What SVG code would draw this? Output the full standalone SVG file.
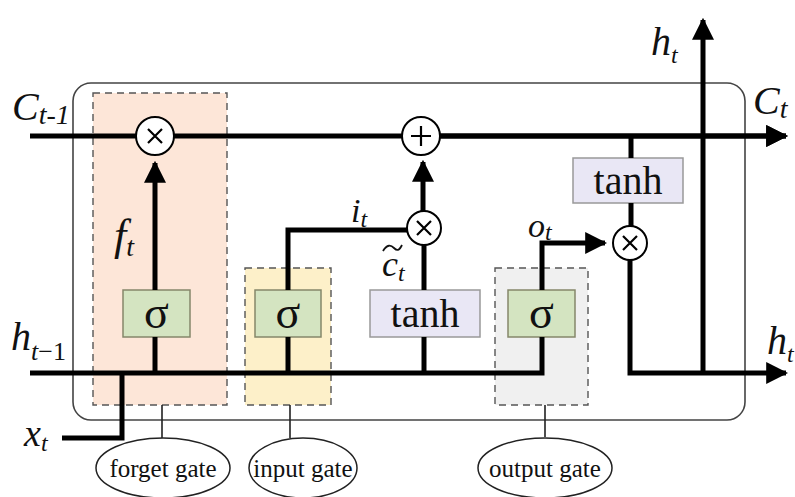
<svg xmlns="http://www.w3.org/2000/svg" width="795" height="497" viewBox="0 0 795 497">
<defs>
<marker id="ah" viewBox="0 0 10 10" refX="9" refY="5" markerWidth="4.4" markerHeight="4.4" orient="auto" markerUnits="strokeWidth">
<path d="M0,0 L10,5 L0,10 z" fill="#000"/>
</marker>
</defs>
<style>
.w{stroke:#000;stroke-width:5;fill:none}
.thin{stroke:#222;stroke-width:1.6;fill:none}
.dash{stroke:#555;stroke-width:1.4;stroke-dasharray:7 5}
.sig{fill:#d4e4c1;stroke:#85876a;stroke-width:1.5}
.tanhb{fill:#e9e7f5;stroke:#999;stroke-width:1.5}
.op{fill:#fff;stroke:#000;stroke-width:2}
.t{font-family:"Liberation Serif","DejaVu Serif",serif;fill:#111}
.it{font-family:"Liberation Serif","DejaVu Serif",serif;font-style:italic;fill:#111}
.ell{fill:#fff;stroke:#222;stroke-width:1.5}
</style>
<rect width="795" height="497" fill="#fff"/>
<rect x="73" y="83" width="672" height="337" rx="18" fill="none" stroke="#444" stroke-width="1.6"/>

<g id="forget_gate">
<rect x="93" y="93" width="134" height="312" fill="#fde6d8" class="dash"/>
<rect x="123" y="290" width="67" height="47" class="sig"/>
<text x="156.5" y="328" text-anchor="middle" class="t" font-size="46">σ</text>
</g>
<g id="input_gate">
<rect x="245" y="268" width="86" height="137" fill="#fdf0c9" class="dash"/>
<rect x="255" y="290" width="66" height="47" class="sig"/>
<text x="288" y="328" text-anchor="middle" class="t" font-size="46">σ</text>
</g>
<g id="output_gate">
<rect x="495" y="268" width="93" height="137" fill="#f0f0f0" class="dash"/>
<rect x="508" y="290" width="67" height="47" class="sig"/>
<text x="541.5" y="328" text-anchor="middle" class="t" font-size="46">σ</text>
</g>
<g id="tanh_candidate">
<rect x="370" y="290" width="110" height="47" class="tanhb"/>
<text x="425" y="327" text-anchor="middle" class="t" font-size="40">tanh</text>
</g>
<g id="tanh_output">
<rect x="573" y="158" width="110" height="45" class="tanhb"/>
<text x="628" y="194" text-anchor="middle" class="t" font-size="40">tanh</text>
</g>

<g id="connectors">
<path d="M30,136 H136 M174,136 H402 M440,136 H786" class="w" marker-end="url(#ah)"/>
<path d="M440,136 H786" class="w" marker-end="url(#ah)"/>
<path d="M30,373 H542 V337" class="w"/>
<path d="M62,438 H122 V373" class="w"/>
<path d="M155,373 V337" class="w"/>
<path d="M155,290 V163" class="w" marker-end="url(#ah)"/>
<path d="M288,373 V337" class="w"/>
<path d="M288,290 V230 H407" class="w"/>
<path d="M424,373 V337" class="w"/>
<path d="M424,290 V245" class="w"/>
<path d="M423,211 V162" class="w" marker-end="url(#ah)"/>
<path d="M542,290 V243 H605" class="w" marker-end="url(#ah)"/>
<path d="M631,136 V158 M631,203 V226" class="w"/>
<path d="M630,260 V373 H786" class="w" marker-end="url(#ah)"/>
<path d="M703,373 V20" class="w" marker-end="url(#ah)"/>
<path d="M162,405 V438 M290,405 V438 M545,405 V437" class="thin"/>
</g>

<g id="op_forget_mul"><circle cx="155" cy="136" r="19" class="op"/><path d="M148,129 L162,143 M162,129 L148,143" stroke="#000" stroke-width="2.2"/></g>
<g id="op_add"><circle cx="421" cy="136" r="19" class="op"/><path d="M411,136 H431 M421,126 V146" stroke="#000" stroke-width="2.2"/></g>
<g id="op_input_mul"><circle cx="424" cy="228" r="17" class="op"/><path d="M417,221 L431,235 M431,221 L417,235" stroke="#000" stroke-width="2.2"/></g>
<g id="op_output_mul"><circle cx="630" cy="243" r="17" class="op"/><path d="M623,236 L637,250 M637,236 L623,250" stroke="#000" stroke-width="2.2"/></g>

<g id="labels">
<text x="12" y="120" class="it" font-size="40">C<tspan font-size="28" dy="4">t-1</tspan></text>
<text x="753" y="114" class="it" font-size="40">C<tspan font-size="28" dy="4">t</tspan></text>
<text x="651" y="55" class="it" font-size="40">h<tspan font-size="24" dy="8">t</tspan></text>
<text x="11" y="350" class="it" font-size="40">h<tspan font-size="26" dy="10">t</tspan><tspan font-size="26" font-style="normal">−1</tspan></text>
<text x="767" y="354" class="it" font-size="40">h<tspan font-size="24" dy="8">t</tspan></text>
<text x="24" y="446" class="it" font-size="38">x<tspan font-size="24" dy="5">t</tspan></text>
<text x="114" y="250" class="it" font-size="44">f<tspan font-size="28" dy="6">t</tspan></text>
<text x="351" y="222" class="it" font-size="34">i<tspan font-size="24" dy="5">t</tspan></text>
<text x="382" y="276" class="it" font-size="36">c<tspan font-size="24" dy="5">t</tspan></text>
<text x="528" y="237" class="it" font-size="34">o<tspan font-size="24" dy="3">t</tspan></text>
</g>
<path id="tilde" d="M383,251 C387,244 391,245 394,248 S399,251 402,245" fill="none" stroke="#111" stroke-width="1.8"/>

<g id="gate_forget_label"><ellipse cx="163" cy="468" rx="67" ry="30" class="ell"/><text x="163" y="477" text-anchor="middle" class="t" font-size="25">forget gate</text></g>
<g id="gate_input_label"><ellipse cx="303" cy="468" rx="54" ry="30" class="ell"/><text x="303" y="477" text-anchor="middle" class="t" font-size="25">input gate</text></g>
<g id="gate_output_label"><ellipse cx="545" cy="468" rx="67" ry="30" class="ell"/><text x="545" y="477" text-anchor="middle" class="t" font-size="25">output gate</text></g>
</svg>
